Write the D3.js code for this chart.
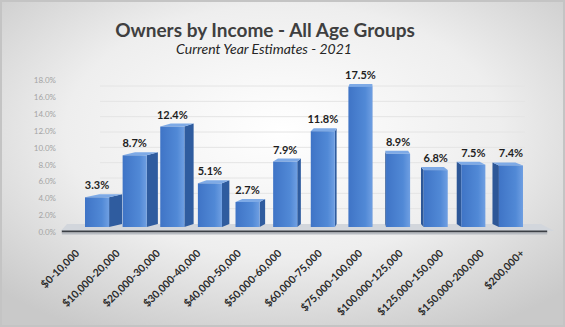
<!DOCTYPE html>
<html><head><meta charset="utf-8">
<script src="https://cdn.jsdelivr.net/npm/d3@7/dist/d3.min.js"></script>
<style>html,body{margin:0;padding:0;background:#fff;}svg{display:block;}</style>
</head><body>
<script>
const categories = ["$0-10,000","$10,000-20,000","$20,000-30,000","$30,000-40,000","$40,000-50,000","$50,000-60,000","$60,000-75,000","$75,000-100,000","$100,000-125,000","$125,000-150,000","$150,000-200,000","$200,000+"];
const values = [3.3, 8.7, 12.4, 5.1, 2.7, 7.9, 11.8, 17.5, 8.9, 6.8, 7.5, 7.4];
const yTicks = [0, 2, 4, 6, 8, 10, 12, 14, 16, 18];
const title = "Owners by Income - All Age Groups";
const subtitle = "Current Year Estimates - 2021";

const W = 565, H = 327;
const svg = d3.select("body").append("svg").attr("width", W).attr("height", H);
const defs = svg.append("defs");

const bg = defs.append("radialGradient").attr("id","bg").attr("cx","50%").attr("cy","40%").attr("r","70%");
bg.append("stop").attr("offset","0%").attr("stop-color","#ffffff");
bg.append("stop").attr("offset","55%").attr("stop-color","#eeeeee");
bg.append("stop").attr("offset","100%").attr("stop-color","#c9c9c9");
svg.append("rect").attr("width",W).attr("height",H).attr("fill","url(#bg)");
svg.append("rect").attr("x",1).attr("y",1).attr("width",W-2).attr("height",H-2)
  .attr("fill","none").attr("stroke","#c4c4c4").attr("stroke-width",2);

const front = defs.append("linearGradient").attr("id","front").attr("x1","0").attr("x2","1").attr("y1","0").attr("y2","0");
front.append("stop").attr("offset","0%").attr("stop-color","#3f74c6");
front.append("stop").attr("offset","70%").attr("stop-color","#5189d6");
front.append("stop").attr("offset","100%").attr("stop-color","#6f9fe2");

// scales
const x = d3.scaleBand().domain(categories).range([85, 523]).paddingInner(0.36).paddingOuter(0);
const xLab = d3.scaleBand().domain(categories).range([64.8, 550.2]);
const y = d3.scaleLinear().domain([0, 18]).range([223, 83]);
const yAxisScale = d3.scaleLinear().domain([0, 18]).range([232, 80]);
const yGrid = d3.scaleLinear().domain([0, 18]).range([224, 86]);

// faint back-wall gridlines
svg.append("g").selectAll("line").data(yTicks.slice(1)).join("line")
  .attr("x1", 100).attr("x2", 525)
  .attr("y1", d => yGrid(d)).attr("y2", d => yGrid(d))
  .attr("stroke", "#e4e4e4").attr("stroke-width", 1);

// y axis labels
const yAxis = d3.axisLeft(yAxisScale).tickValues(yTicks).tickFormat(d => d3.format(".1f")(d) + "%").tickSize(0).tickPadding(0);
const gy = svg.append("g").attr("transform", "translate(56,0)").call(yAxis);
gy.select(".domain").remove();
gy.selectAll("text").attr("font-family", "Lato, 'Open Sans', sans-serif").attr("font-size", 8).attr("fill", "#a4a4a4");

// floor
const base = y(0);
svg.append("path")
  .attr("d", `M${xLab(categories[0]) - 4},${base + 8} L${xLab(categories[11]) + xLab.bandwidth() + 4},${base + 8} L${x(categories[11]) + x.bandwidth() + 18},${base + 1} L${x(categories[0]) - 18},${base + 1} Z`)
  .attr("fill", "#d2d6dc");
svg.append("line")
  .attr("x1", xLab.range()[0] - 3).attr("x2", xLab.range()[1] - 3)
  .attr("y1", base + 8.5).attr("y2", base + 8.5)
  .attr("stroke", "#3b3f45").attr("stroke-width", 2);
svg.append("line")
  .attr("x1", xLab.range()[0] - 3).attr("x2", xLab.range()[1] - 3)
  .attr("y1", base + 10.5).attr("y2", base + 10.5)
  .attr("stroke", "#b8bcc2").attr("stroke-width", 2);

// bars (pseudo 3D)
const vx = 370, s = 0.95, dy = 3;
const bottom = base + 4;
const px = v => vx + (v - vx) * s;
const bars = svg.append("g");
categories.forEach((c, i) => {
  const xl = x(c), xr = xl + x.bandwidth(), yt = y(values[i]);
  const cx = xl + x.bandwidth() / 2;
  const g = bars.append("g");
  if (cx < vx) {
    g.append("path").attr("d", `M${xr},${yt} L${px(xr)},${yt - dy} L${px(xr)},${bottom - dy} L${xr},${bottom} Z`).attr("fill", "#2f5c9f");
  } else {
    g.append("path").attr("d", `M${xl},${yt} L${px(xl)},${yt - dy} L${px(xl)},${bottom - dy} L${xl},${bottom} Z`).attr("fill", "#2d5797");
  }
  g.append("path").attr("d", `M${xl},${yt} L${xr},${yt} L${px(xr)},${yt - dy} L${px(xl)},${yt - dy} Z`).attr("fill", "#7eaae6");
  g.append("rect").attr("x", xl).attr("y", yt).attr("width", x.bandwidth()).attr("height", bottom - yt).attr("fill", "url(#front)");
});

// data labels
svg.append("g").selectAll("text").data(categories).join("text")
  .attr("x", c => x(c) + x.bandwidth() / 2)
  .attr("y", (c, i) => y(values[i]) - 8)
  .attr("text-anchor", "middle")
  .attr("font-family", "Lato, 'Open Sans', sans-serif").attr("font-weight", "bold").attr("font-size", 11).attr("fill", "#1e1e1e")
  .text((c, i) => values[i].toFixed(1) + "%");

// x labels rotated
svg.append("g").selectAll("text").data(categories).join("text")
  .attr("transform", c => `translate(${xLab(c) + xLab.bandwidth() / 2 - 5},${base + 31}) rotate(-45)`)
  .attr("text-anchor", "end")
  .attr("font-family", "Lato, 'Open Sans', sans-serif").attr("font-weight", "bold").attr("font-size", 10.5).attr("fill", "#2a2a2a")
  .text(c => c);

// titles
svg.append("text").attr("x", 265).attr("y", 37).attr("text-anchor", "middle")
  .attr("font-family", "Lato, 'Open Sans', sans-serif").attr("font-weight", "bold").attr("font-size", 19).attr("fill", "#3f3f3f")
  .text(title);
svg.append("text").attr("x", 264).attr("y", 54).attr("text-anchor", "middle")
  .attr("font-family", "Lato, 'Open Sans', sans-serif").attr("font-style", "italic").attr("font-size", 14).attr("fill", "#262626")
  .text(subtitle);
</script>
</body></html>
